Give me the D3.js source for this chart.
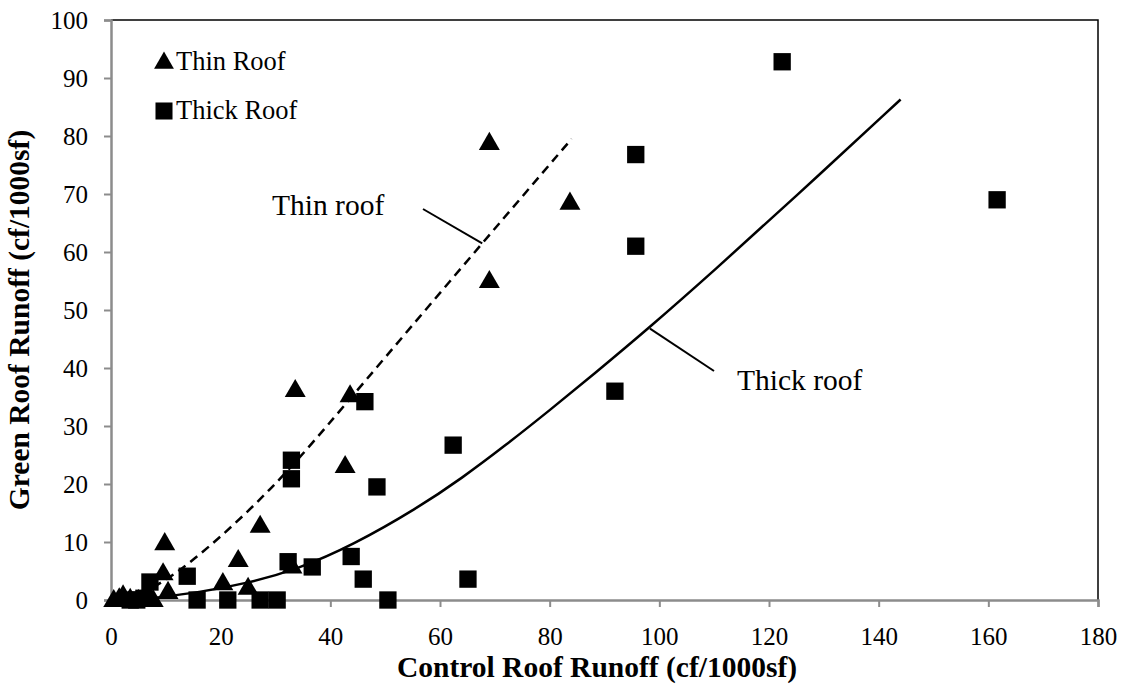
<!DOCTYPE html>
<html>
<head>
<meta charset="utf-8">
<script src="https://cdn.jsdelivr.net/npm/d3@7"></script>
<style>
  html, body { margin: 0; padding: 0; background: #fff; }
  svg { display: block; }
  svg text { font-family: "Liberation Serif", "Times New Roman", serif; fill: #000; }
</style>
</head>
<body>
<svg id="chart" width="1127" height="684"></svg>
<script>
// Control roof runoff vs. green roof runoff (cf/1000sf)
const thinRoofX = [0.5, 1.5, 2.2, 3.5, 5.0, 7.7, 9.5, 9.8, 10.4, 20.4, 23.2, 25.0, 27.2, 33.0, 33.6, 42.7, 43.6, 69.0, 69.0, 83.7];
const thinRoofY = [0.0, 0.3, 0.8, 0.2, 0.0, 0.0, 4.6, 9.8, 1.4, 2.9, 6.9, 2.1, 12.8, 5.8, 36.2, 23.1, 35.3, 55.0, 78.8, 68.5];

const thickRoofX = [3.5, 4.7, 6.0, 7.1, 13.9, 15.7, 21.3, 27.2, 30.3, 32.3, 32.9, 32.9, 36.7, 43.8, 46.0, 46.3, 48.5, 50.5, 62.4, 65.1, 91.9, 95.7, 95.7, 122.4, 161.6];
const thickRoofY = [0.0, 0.0, 0.3, 3.1, 4.1, 0.0, 0.0, 0.0, 0.0, 6.6, 20.9, 24.1, 5.7, 7.5, 3.6, 34.2, 19.5, 0.0, 26.7, 3.6, 36.0, 61.0, 76.8, 92.8, 69.0];

// Fitted trend curves
const thinFitX = [7.7, 12.0, 20.0, 28.4, 35.4, 49.6, 67.7, 84.0];
const thinFitY = [2.2, 4.6, 10.8, 18.4, 25.5, 41.4, 61.5, 79.5];
const thickFitX = [7.5, 16.0, 25.0, 34.0, 44.0, 56.0, 64.0, 72.0, 80.0, 88.0, 98.0, 110.0, 124.0, 144.0];
const thickFitY = [0.3, 1.3, 2.9, 5.3, 9.4, 15.9, 21.0, 26.7, 32.7, 38.9, 46.8, 56.8, 68.8, 86.3];

const xTicks = [0, 20, 40, 60, 80, 100, 120, 140, 160, 180];
const yTicks = [0, 10, 20, 30, 40, 50, 60, 70, 80, 90, 100];

const serif = '"Liberation Serif", "Times New Roman", serif';
const svg = d3.select("#chart");
const x = d3.scaleLinear().domain([0, 180]).range([111, 1098]);
const y = d3.scaleLinear().domain([0, 100]).range([600, 20]);

const axisGray = "#8c8c8c";

// plot frame (top and right edges)
svg.append("path")
  .attr("d", `M${x(0)},${y(100)}H${x(180)}V${y(0)}`)
  .attr("fill", "none").attr("stroke", "#000").attr("stroke-width", 1.5);

// x axis
const xAxis = svg.append("g").attr("transform", `translate(0,${y(0)})`)
  .call(d3.axisBottom(x).tickValues(xTicks).tickSize(7).tickPadding(20).tickFormat(d3.format("d")));
xAxis.attr("font-family", null).attr("font-size", null);
xAxis.select(".domain").attr("stroke", axisGray).attr("stroke-width", 2.5);
xAxis.selectAll(".tick line").attr("stroke", axisGray).attr("stroke-width", 2);
xAxis.selectAll(".tick text").style("font-family", serif).style("font-size", "25px").attr("fill", "#000");

// y axis
const yAxis = svg.append("g").attr("transform", `translate(${x(0)},0)`)
  .call(d3.axisLeft(y).tickValues(yTicks).tickSize(7).tickPadding(16).tickFormat(d3.format("d")));
yAxis.attr("font-family", null).attr("font-size", null);
yAxis.select(".domain").attr("stroke", axisGray).attr("stroke-width", 2.5);
yAxis.selectAll(".tick line").attr("stroke", axisGray).attr("stroke-width", 2);
yAxis.selectAll(".tick text").style("font-family", serif).style("font-size", "25px").attr("fill", "#000");

// trend curves
const thinFit = d3.zip(thinFitX, thinFitY);
const thickFit = d3.zip(thickFitX, thickFitY);
const line = d3.line().x(d => x(d[0])).y(d => y(d[1])).curve(d3.curveBasis);

svg.append("path").datum(thinFit).attr("d", line)
  .attr("fill", "none").attr("stroke", "#000").attr("stroke-width", 2.5)
  .attr("stroke-dasharray", "9,6");
svg.append("path").datum(thickFit).attr("d", line)
  .attr("fill", "none").attr("stroke", "#000").attr("stroke-width", 2.5);

// markers
const tri = d3.symbol().type(d3.symbolTriangle).size(190);
const sq = d3.symbol().type(d3.symbolSquare).size(300);

svg.append("g").selectAll("path").data(d3.zip(thickRoofX, thickRoofY)).join("path")
  .attr("d", sq).attr("transform", d => `translate(${x(d[0])},${y(d[1])})`).attr("fill", "#000");
svg.append("g").selectAll("path").data(d3.zip(thinRoofX, thinRoofY)).join("path")
  .attr("d", tri).attr("transform", d => `translate(${x(d[0])},${y(d[1]) + 1})`).attr("fill", "#000");

// curve labels with leader lines
svg.append("line").attr("x1", 423).attr("y1", 209).attr("x2", x(67.7)).attr("y2", y(61.5))
  .attr("stroke", "#000").attr("stroke-width", 2);
svg.append("text").attr("x", 272).attr("y", 215).style("font-size", "29.5px").text("Thin roof");

svg.append("line").attr("x1", x(98.3)).attr("y1", y(46.8)).attr("x2", 714).attr("y2", 371)
  .attr("stroke", "#000").attr("stroke-width", 2);
svg.append("text").attr("x", 737).attr("y", 390).style("font-size", "29.5px").text("Thick roof");

// legend
const legend = svg.append("g");
legend.append("path").attr("d", d3.symbol().type(d3.symbolTriangle).size(170))
  .attr("transform", "translate(164,63)").attr("fill", "#000");
legend.append("text").attr("x", 176).attr("y", 70).style("font-size", "26.5px").text("Thin Roof");
legend.append("path").attr("d", d3.symbol().type(d3.symbolSquare).size(290))
  .attr("transform", "translate(164,111)").attr("fill", "#000");
legend.append("text").attr("x", 176).attr("y", 119).style("font-size", "26.5px").text("Thick Roof");

// axis titles
svg.append("text").attr("x", 597).attr("y", 677)
  .attr("text-anchor", "middle").style("font-size", "29.5px").style("font-weight", "bold")
  .text("Control Roof Runoff (cf/1000sf)");
svg.append("text").attr("transform", "translate(29,320) rotate(-90)")
  .attr("text-anchor", "middle").style("font-size", "29.5px").style("font-weight", "bold")
  .text("Green Roof Runoff (cf/1000sf)");
</script>
</body>
</html>
